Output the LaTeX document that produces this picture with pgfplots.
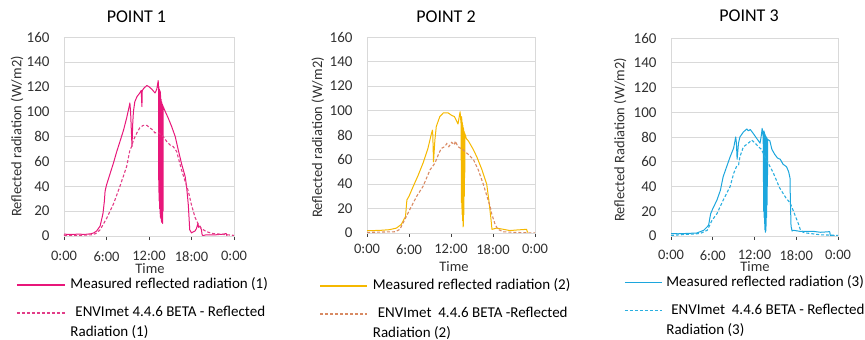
\documentclass[border=0pt]{standalone}
\usepackage{fontspec}
\setmainfont{Carlito}
\usepackage{pgfplots}
\pgfplotsset{compat=1.18}
\definecolor{pinkM}{HTML}{E8177A}
\definecolor{pinkS}{HTML}{E23D88}
\definecolor{yelM}{HTML}{F5B800}
\definecolor{orS}{HTML}{D98A63}
\definecolor{cyM}{HTML}{1CA6DD}
\definecolor{cyS}{HTML}{2AAFE0}
\definecolor{gridgray}{HTML}{D9D9D9}
\definecolor{axgray}{HTML}{404040}
\definecolor{txt}{HTML}{303030}
\newcommand{\lblfont}{\fontsize{14.5}{17}\selectfont}
\pgfplotsset{
  panel/.style={
    scale only axis, xmin=0, xmax=24, ymin=0, ymax=160,
    xtick={0,6,12,18,24}, xticklabels={0:00,6:00,12:00,18:00,0:00},
    ytick={0,20,...,160},
    ymajorgrids, major grid style={draw=gridgray, line width=0.7pt},
    axis line style={draw=gridgray, line width=0.7pt},
    tick align=outside, xtick pos=bottom, ytick pos=left,
    ytick style={draw=none},
    xtick style={draw=axgray, line width=0.8pt},
    major tick length=4pt,
    /pgf/number format/assume math mode=true,
    tick label style={font=\fontsize{14.5}{17}\selectfont, text=txt},
    yticklabel style={xshift=-7pt, font=\fontsize{15}{18}\selectfont},
    title style={font=\fontsize{18}{21}\selectfont, anchor=center},
    legend cell align=left,
    legend style={draw=none, fill=none, font=\fontsize{15}{20}\selectfont,
      anchor=north west, row sep=14pt, column sep=5pt, inner sep=0pt,
      nodes={inner sep=0pt, text height=11pt, text depth=3pt}},
  },
  limg/.style={legend image code/.code={\draw[##1, line width=1.2pt] (0pt,0pt) -- (#1,0pt);}},
  meas/.style={line width=1pt, line join=round},
  sim/.style={line width=1.1pt, dash pattern=on 3pt off 2pt},
}
\begin{document}
\begin{tikzpicture}
\path[use as bounding box] (0,0) rectangle (865pt,340pt);
% ---------------- POINT 1
\begin{axis}[panel, at={(64pt,104pt)}, anchor=south west, width=170pt, height=199pt,
  title={POINT 1}, title style={at={(0.426,1)}, yshift=14pt},
  ylabel={Reflected radiation (W/m2)}, xlabel={Time},
  every axis y label/.style={at={(-0.276,0.5)}, rotate=90, anchor=center, font=\lblfont, text=txt},
  every axis x label/.style={at={(0.506,-0.164)}, anchor=center, font=\lblfont, text=txt},
  xticklabel style={yshift=-8pt},
  legend style={at={(-0.282,-0.21)}}, limg=48pt]
\addplot[pinkM, meas] coordinates {
(0,1.5)(1,1.2)(2,1.5)(3,1.3)(3.8,1.8)(4.2,2.5)(4.6,4)(5.1,8)(5.5,18)(5.7,28)(5.8,36)(6.0,41)
(6.5,50)(7.0,59)(7.4,67)(7.9,76)(8.4,85)(8.85,95)(9.2,104)(9.3,107)(9.4,100)(9.6,72)(9.7,90)
(9.8,100)(10.0,108)(10.3,112)(10.7,115)(10.9,117)(11.0,104)(11.05,117)(11.3,119)(11.7,121)
(12.0,120)(12.4,118)(12.85,115)(13.1,118)(13.3,125)
(13.35,118)(13.38,35)(13.41,120)(13.44,28)(13.47,118)(13.50,22)(13.53,117)(13.56,18)(13.59,116)
(13.62,15)(13.65,113)(13.68,14)(13.71,110)(13.74,12)(13.77,108)(13.80,11)(13.83,107)(13.86,13)
(13.89,106)(13.92,10)(13.95,105)(13.98,20)(14.01,104)
(14.3,100)(14.7,95)(15.2,88)(15.7,80)(16.1,70)(16.6,58)(17.1,48)(17.3,40)(17.55,25)(17.75,5)
(18.0,2.5)(18.3,3.5)(18.5,4)(18.7,6)(18.9,10)(19.0,7)(19.2,8)(19.4,5)(19.5,1)(19.6,0.3)
(20.1,1)(21.5,1)(22.5,1.5)(22.9,2)(23.0,0)};
\addlegendentry{Measured reflected radiation (1)}
\addplot[pinkS, sim] coordinates {
(0,0.5)(2,0.5)(4,1)(4.5,2)(5.1,5)(6.0,14)(7.0,26)(7.9,40)(8.85,56)(9.3,69)(9.55,72)(9.8,77)
(10.3,83)(10.7,87)(11.2,89)(11.7,89)(12.1,87)(12.6,85)(12.8,83)(13.3,83)(14.0,80)(14.5,76)
(15.0,73)(15.4,72)(15.9,68)(16.6,53)(17.1,44)(17.55,36)(18.0,25)(18.5,15)(19.0,9)(19.4,6)
(20.1,3.5)(21,2)(23,1)(24,0.5)};
\addlegendentry{\vtop{\hbox{\hspace{5pt}ENVImet 4.4.6 BETA - Reflected}\hbox{Radiation (1)}}}
\draw[axgray, line width=0.8pt] (axis cs:0,0) -- (axis cs:24,0);
\end{axis}
% ---------------- POINT 2
\begin{axis}[panel, at={(367pt,107pt)}, anchor=south west, width=168pt, height=196pt,
  title={POINT 2}, title style={at={(0.47,1)}, yshift=14pt},
  ylabel={Reflected radiation (W/m2)}, xlabel={Time},
  every axis y label/.style={at={(-0.292,0.487)}, rotate=90, anchor=center, font=\lblfont, text=txt},
  every axis x label/.style={at={(0.518,-0.173)}, anchor=center, font=\lblfont, text=txt},
  xticklabel style={yshift=-4pt},
  legend style={at={(-0.2857,-0.2322)}},
  legend image code/.code={\draw[#1, line width=1.7pt] (0pt,0pt) -- (47pt,0pt);}]
\addplot[yelM, meas] coordinates {
(0,2)(1,2)(2,2.2)(3.2,2.7)(4.2,4)(4.9,7)(5.5,13.5)(5.7,27)(6.0,30)(6.6,38)(7.3,47)(8.0,57)
(8.7,69)(9.2,81)(9.35,84)(9.4,80)(9.5,58)(9.7,76)(9.9,87)(10.4,95)(10.9,98)(11.6,98)(12.1,96)
(12.5,95)(13.0,89)(13.3,99)(13.45,88)
(13.48,25)(13.51,95)(13.54,20)(13.57,93)(13.60,15)(13.63,90)(13.66,10)(13.69,88)(13.72,5)
(13.75,86)(13.78,6)(13.81,85)(13.84,15)(13.87,83)(13.90,30)(13.93,82)(13.96,45)(13.99,81)
(14.2,77)(14.5,75)(15.2,68)(15.7,62)(16.4,52)(16.8,45)(17.1,40)(17.4,27)(17.7,12)(17.85,3)
(18.2,3.5)(18.5,4)(19.5,3)(20.4,2)(21.5,2.5)(22.8,3)(22.9,1)(23.0,0.5)};
\addlegendentry{Measured reflected radiation (2)}
\addplot[orS, sim] coordinates {
(0,0.5)(4,1)(4.7,3)(5.4,11)(6.1,19)(7.1,30)(8.0,38)(9.0,51.5)(9.7,57)(10.2,64)(10.6,69)
(11.1,70.5)(11.4,73)(11.7,70.5)(12.1,74)(12.5,72)(12.6,75)(13.0,70.5)(13.7,68)(14.5,64)
(15.2,60)(15.9,51.5)(16.6,40)(17.3,27)(17.6,21.5)(17.8,16)(18.3,7)(18.7,3)(19.5,1)(21,0.5)(24,0)};
\addlegendentry{\vtop{\hbox{\hspace{5pt}ENVImet\ \ 4.4.6 BETA -Reflected}\hbox{Radiation (2)}}}
\draw[axgray, line width=0.8pt] (axis cs:0,0) -- (axis cs:24,0);
\end{axis}
% ---------------- POINT 3
\begin{axis}[panel, at={(671pt,104pt)}, anchor=south west, width=167pt, height=198pt,
  title={POINT 3}, title style={at={(0.467,1)}, yshift=16pt},
  ylabel={Reflected Radiation (W/m2)}, xlabel={Time},
  every axis y label/.style={at={(-0.305,0.485)}, rotate=90, anchor=center, font=\lblfont, text=txt},
  every axis x label/.style={at={(0.503,-0.155)}, anchor=center, font=\lblfont, text=txt},
  xticklabel style={yshift=-7pt},
  legend style={at={(-0.2814,-0.2)}, column sep=4pt}, limg=37pt]
\addplot[cyM, meas] coordinates {
(0,2)(1,1.8)(2,2)(3.7,2.4)(4.7,4.6)(5.4,8.6)(5.6,15)(5.7,18)(6.0,22)(6.6,29)(7.1,37)(7.5,48)
(8.0,56)(8.5,64)(9.0,71)(9.3,80)(9.4,75)(9.5,62)(9.7,75)(9.9,80)(10.4,84)(10.9,86.5)(11.1,85)
(11.4,86)(11.8,83)(12.3,79)(12.8,75)(13.0,82)(13.1,87)(13.25,80)
(13.32,20)(13.35,85)(13.38,15)(13.41,84)(13.44,10)(13.47,83)(13.50,5)(13.53,82)(13.56,3)
(13.59,81)(13.62,4)(13.65,80)(13.68,8)(13.71,80)(13.74,15)(13.77,79)(13.80,25)(13.83,79)
(13.86,40)(13.89,78)
(14.2,77)(14.5,70)(14.9,66)(15.3,63)(15.7,62)(16.1,58)(16.6,56)(16.9,52)(17.1,47)(17.15,30)
(17.25,8)(17.4,4)(17.6,4.6)(18.5,3.8)(20.4,3.8)(21.5,3)(22.8,3.5)(22.9,0.5)(23.5,0.3)};
\addlegendentry{Measured reflected radiation (3)}
\addplot[cyS, sim] coordinates {
(0,0.5)(4.2,2)(5.2,4.6)(5.9,12.7)(6.6,18)(7.5,29)(8.5,40)(9.0,50.5)(9.4,56)(9.7,57)(9.9,64)
(10.4,72)(11.1,75)(11.6,77.5)(12.1,75)(12.6,72)(13.0,70)(13.5,64)(14.0,58.6)(14.7,51)
(15.6,39)(16.6,30)(17.1,27)(17.6,20)(18.3,10)(18.6,5)(19.0,3)(19.5,2.4)(21.4,1)(24,0.5)};
\addlegendentry{\vtop{\hbox{\hspace{5pt}ENVImet\ \ 4.4.6 BETA - Reflected}\hbox{Radiation (3)}}}
\draw[axgray, line width=0.8pt] (axis cs:0,0) -- (axis cs:24,0);
\end{axis}
\end{tikzpicture}
\end{document}
